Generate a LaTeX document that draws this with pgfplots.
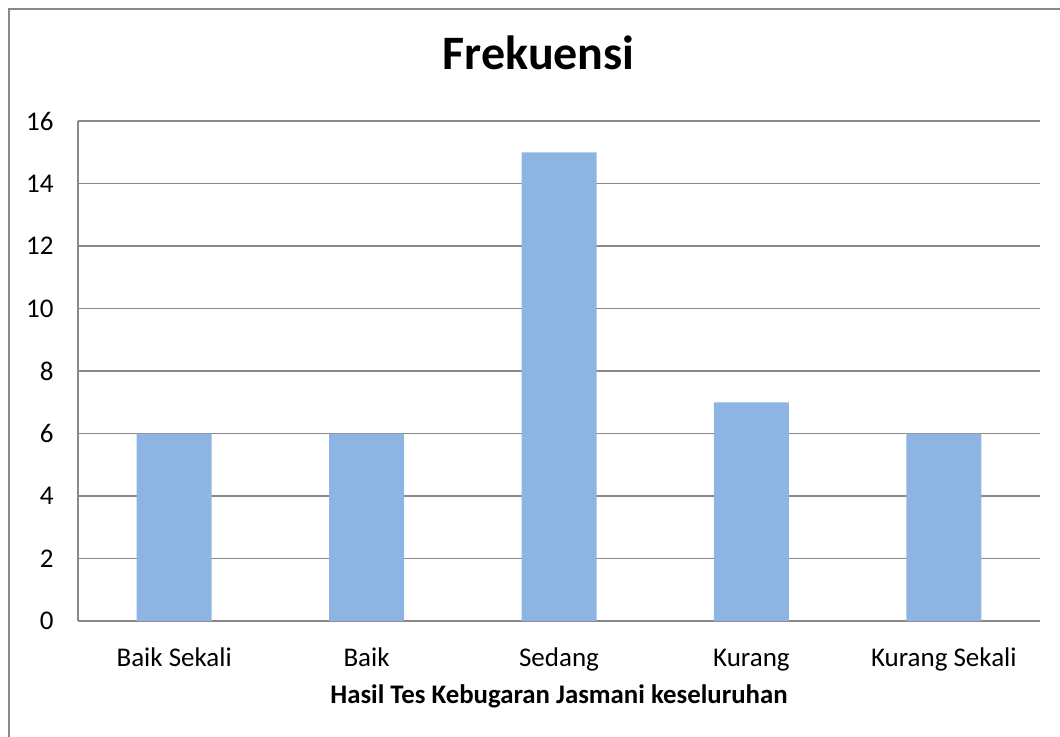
\documentclass[border=0pt]{standalone}
\usepackage{pgfplots}
\pgfplotsset{compat=1.18}
\usepackage{fontspec}
\setmainfont{Carlito}
\definecolor{barblue}{RGB}{142,180,227}
\definecolor{gridgray}{RGB}{137,137,137}
\begin{document}
\begin{tikzpicture}
\useasboundingbox (0,0) rectangle (530pt,-368pt);
\draw[gridgray, line width=1.2pt] (4.6pt,-4.6pt) rectangle (560pt,-400pt);
\begin{axis}[
  at={(39pt,-310.5pt)}, anchor=south west,
  scale only axis, width=481pt, height=250pt,
  xmin=-0.5, xmax=4.5, ymin=0, ymax=16,
  ytick={0,2,4,6,8,10,12,14,16},
  xtick={0,1,2,3,4},
  xticklabels={Baik Sekali,Baik,Sedang,Kurang,Kurang Sekali},
  axis x line*=bottom, axis y line*=left,
  axis line style={gridgray, line width=0.6pt, -},
  major tick length=0pt,
  tick style={draw=none},
  ymajorgrids, grid style={gridgray, line width=0.6pt},
  ticklabel style={font=\fontsize{13.5}{16}\selectfont, text=black},
  yticklabel style={anchor=east, inner sep=0pt, xshift=-12pt},
  xticklabel style={anchor=base, inner sep=0pt, yshift=-22.5pt},
  /pgf/number format/assume math mode=true,
  title={Frekuensi},
  title style={at={(axis description cs:0.479,1.112)}, anchor=center, font=\fontsize{24}{28}\bfseries},
  xlabel={Hasil Tes Kebugaran Jasmani keseluruhan},
  xlabel style={at={(axis description cs:0.5,-0.15)}, anchor=center, font=\fontsize{13.4}{16}\bfseries},
  ybar, bar width=37.5pt,
]
\addplot[fill=barblue, draw=none] coordinates {(0,6) (1,6) (2,15) (3,7) (4,6)};
\end{axis}
\end{tikzpicture}
\end{document}
